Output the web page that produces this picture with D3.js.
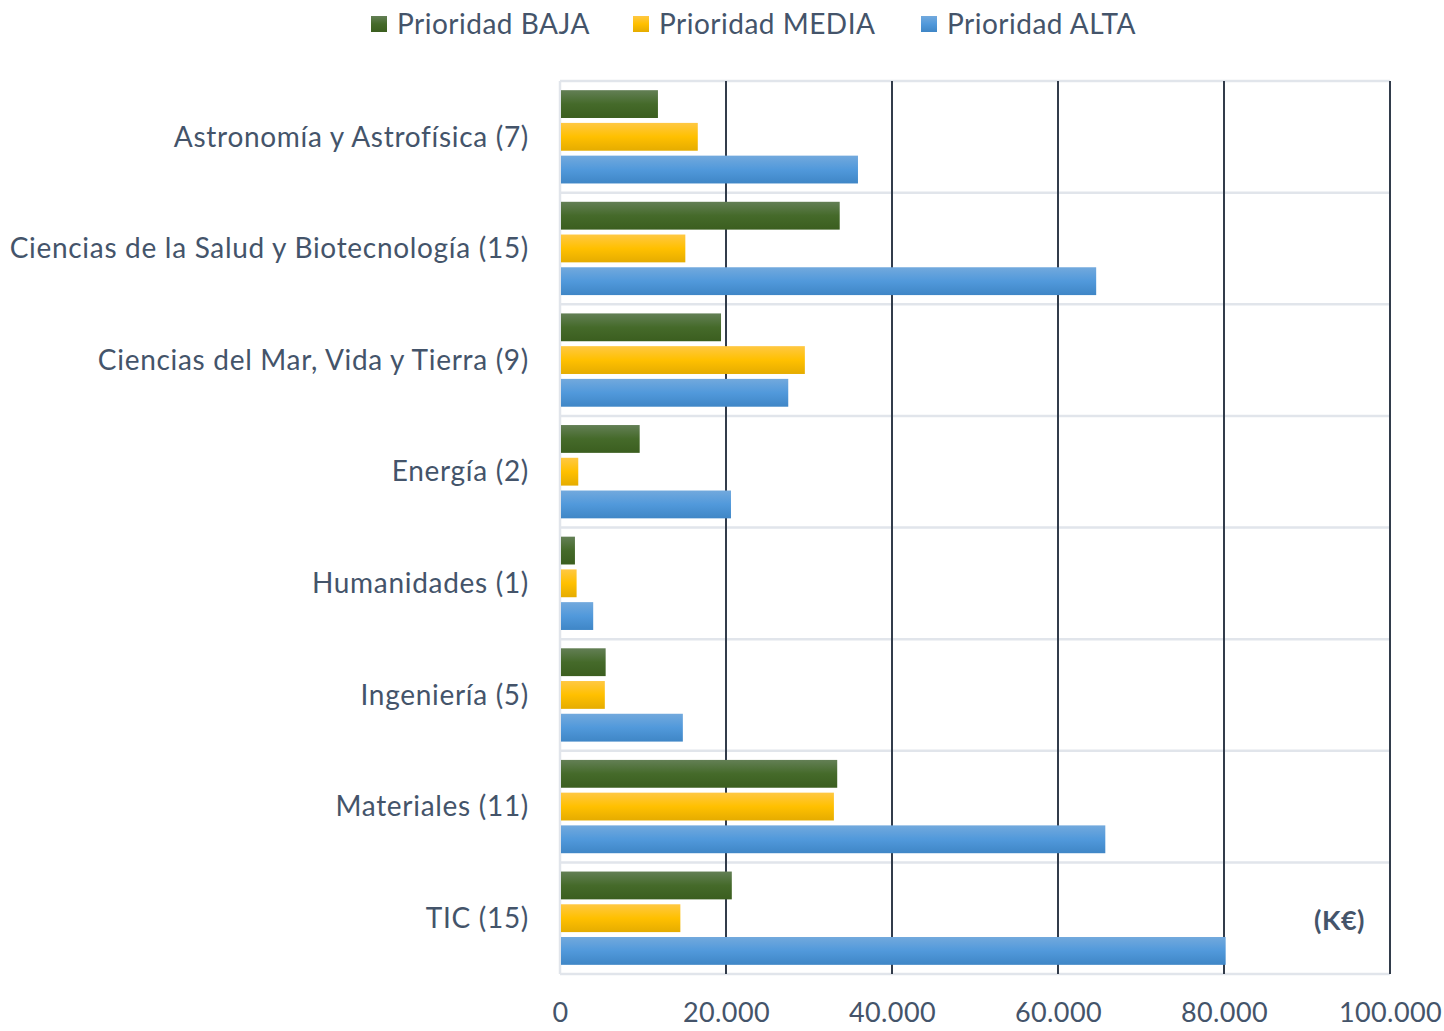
<!DOCTYPE html>
<html>
<head>
<meta charset="utf-8">
<script src="https://cdn.jsdelivr.net/npm/d3@7"></script>
<style>
  body { margin: 0; background: #fff; }
  text { font-family: Lato, "Open Sans", sans-serif; fill: #44546a; }
</style>
</head>
<body>
<svg id="chart"></svg>
<script>
const categories = [
  'Astronomía y Astrofísica (7)',
  'Ciencias de la Salud y Biotecnología (15)',
  'Ciencias del Mar, Vida y Tierra (9)',
  'Energía (2)',
  'Humanidades (1)',
  'Ingeniería (5)',
  'Materiales (11)',
  'TIC (15)'
];
const seriesNames = ['Prioridad BAJA', 'Prioridad MEDIA', 'Prioridad ALTA'];
const baja  = [11800, 33700, 19400, 9600, 1800, 5500, 33400, 20700];
const media = [16600, 15100, 29500, 2200, 2000, 5400, 33000, 14500];
const alta  = [35900, 64600, 27500, 20600, 4000, 14800, 65700, 80200];
const xTicks = [0, 20000, 40000, 60000, 80000, 100000];

const config = {
  width: 1444, height: 1031,
  margin: {top: 81, right: 54, bottom: 57, left: 560}
};
const gradients = [
  ['#637f55', '#456a2a', '#3b5e1f'],
  ['#ffc843', '#ffc000', '#e5ac00'],
  ['#72a9dd', '#5199db', '#3f86c6']
];

const innerW = config.width - config.margin.left - config.margin.right;
const innerH = config.height - config.margin.top - config.margin.bottom;

const data = categories.map((c, i) => ({
  category: c,
  values: [baja[i], media[i], alta[i]]
}));

const svg = d3.select('#chart')
    .attr('width', config.width)
    .attr('height', config.height);

const defs = svg.append('defs');
gradients.forEach((g, i) => {
  const lg = defs.append('linearGradient')
      .attr('id', 'grad' + i)
      .attr('x1', 0).attr('y1', 0).attr('x2', 0).attr('y2', 1);
  lg.append('stop').attr('offset', '0%').attr('stop-color', g[0]);
  lg.append('stop').attr('offset', '50%').attr('stop-color', g[1]);
  lg.append('stop').attr('offset', '100%').attr('stop-color', g[2]);
});

const chart = svg.append('g')
    .attr('transform', `translate(${config.margin.left},${config.margin.top})`);

const xScale = d3.scaleLinear().domain([0, 100000]).range([0, innerW]);
const yScale = d3.scaleBand().domain(categories).range([0, innerH]);
const ySub = d3.scaleBand().domain(d3.range(3))
    .range([0, yScale.bandwidth()])
    .paddingInner(0.15)
    .paddingOuter(0.28);

// horizontal separators
chart.selectAll('.hline')
    .data(d3.range(categories.length + 1))
  .join('line')
    .attr('class', 'hline')
    .attr('x1', 0).attr('x2', innerW)
    .attr('y1', d => d * yScale.step())
    .attr('y2', d => d * yScale.step())
    .attr('stroke', '#e1e5eb')
    .attr('stroke-width', 2.5);

// vertical gridlines
chart.selectAll('.vline')
    .data(xTicks)
  .join('line')
    .attr('class', 'vline')
    .attr('x1', d => xScale(d)).attr('x2', d => xScale(d))
    .attr('y1', 0).attr('y2', innerH)
    .attr('stroke', d => d === 0 ? '#e1e5eb' : '#323c4b')
    .attr('stroke-width', d => d === 0 ? 2.5 : 2);

// bars
const groups = chart.selectAll('.cat')
    .data(data)
  .join('g')
    .attr('class', 'cat')
    .attr('transform', d => `translate(0,${yScale(d.category)})`);

groups.selectAll('rect')
    .data(d => d.values.map((v, i) => ({v, i})))
  .join('rect')
    .attr('x', 1)
    .attr('y', d => ySub(d.i))
    .attr('width', d => xScale(d.v) - 1)
    .attr('height', ySub.bandwidth())
    .attr('fill', d => `url(#grad${d.i})`);

// category labels
chart.selectAll('.cat-label')
    .data(categories)
  .join('text')
    .attr('class', 'cat-label')
    .attr('x', -31)
    .attr('y', d => yScale(d) + yScale.bandwidth() / 2)
    .attr('dy', '0.35em')
    .attr('text-anchor', 'end')
    .style('font-size', '28px')
    .style('letter-spacing', '0.7px')
    .text(d => d);

// x axis
const xAxis = d3.axisBottom(xScale)
    .tickValues(xTicks)
    .tickSize(0)
    .tickPadding(29)
    .tickFormat(d => d3.format(',')(d).replace(/,/g, '.'));

const xAxisG = chart.append('g')
    .attr('transform', `translate(0,${innerH})`)
    .call(xAxis);
xAxisG.select('.domain').remove();
xAxisG.selectAll('.tick text')
    .style('font-size', '27px')
    .style('letter-spacing', '0.4px')
    .style('font-family', 'Lato, "Open Sans", sans-serif')
    .attr('fill', '#44546a');

// unit label
chart.append('text')
    .attr('x', 805)
    .attr('y', yScale('TIC (15)') + yScale.bandwidth() / 2 + 2)
    .attr('dy', '0.35em')
    .attr('text-anchor', 'end')
    .style('font-size', '27px')
    .style('font-weight', 'bold')
    .style('letter-spacing', '0.5px')
    .text('(K€)');

// legend
const legendX = [371, 633, 921];
const legend = svg.selectAll('.legend')
    .data(seriesNames)
  .join('g')
    .attr('class', 'legend')
    .attr('transform', (d, i) => `translate(${legendX[i]},16)`);
legend.append('rect')
    .attr('width', 16).attr('height', 16)
    .attr('fill', (d, i) => `url(#grad${i})`);
legend.append('text')
    .attr('x', 26).attr('y', 8)
    .attr('dy', '0.35em')
    .style('font-size', '28px')
    .style('letter-spacing', '0.5px')
    .text(d => d);
</script>
</body>
</html>
